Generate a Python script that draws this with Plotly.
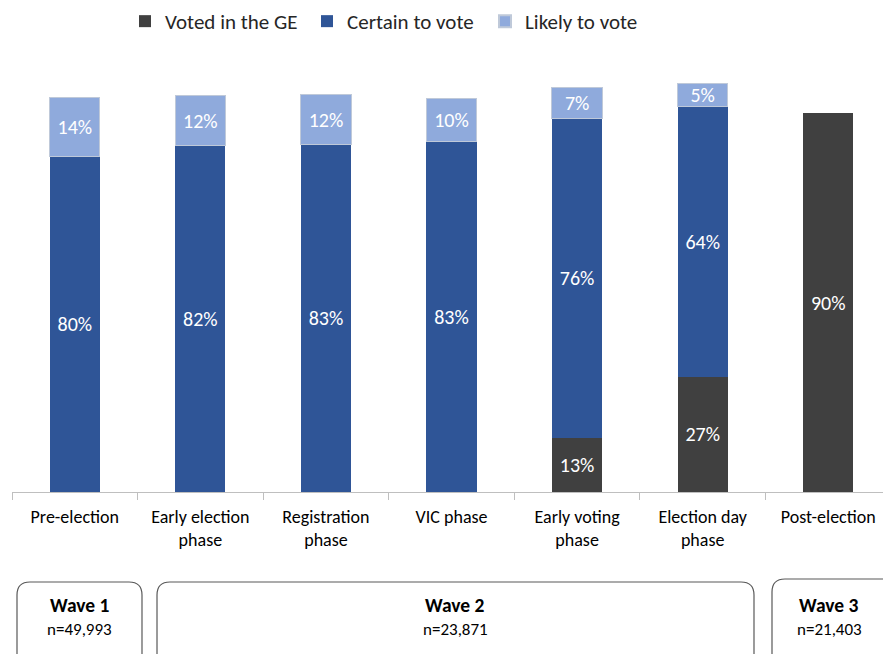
import plotly.graph_objects as go

categories = ["Pre-election", "Early election<br>phase", "Registration<br>phase", "VIC phase",
              "Early voting<br>phase", "Election day<br>phase", "Post-election"]
voted = [None, None, None, None, 12.9, 27.4, 90.2]
certain = [80.0, 82.4, 82.7, 83.4, 76.1, 64.4, None]
likely = [14.0, 12.1, 11.9, 10.3, 7.4, 5.4, None]

waves = ["Wave 1", "Wave 2", "Wave 3"]
wave_n = ["n=49,993", "n=23,871", "n=21,403"]

FONT = "Carlito, Calibri, Lato, 'Open Sans', sans-serif"
W, H = 883, 654
L, T, PW, PH = 12, 40, 871, 452
PX_PER_PCT = 4.2


def px2paper(x, y):
    return (x - L) / PW, (T + PH - y) / PH


fig = go.Figure()
series = [("Voted in the GE", voted, "#404040", None, "legend", 125),
          ("Certain to vote", certain, "#2F5597", None, "legend2", 307),
          ("Likely to vote", likely, "#8FAADC", "#BFC9D9", "legend3", 485)]
legends = {}
for name, vals, col, lc, lg, lxp in series:
    fig.add_trace(go.Bar(
        name=name, x=categories, y=vals, width=0.4, legend=lg,
        marker=dict(color=col, line=dict(color=lc or col, width=1 if lc else 0)),
        texttemplate="%{y:.0f}%", textposition="inside", insidetextanchor="middle",
        textfont=dict(color="white", size=20, family=FONT), textangle=0,
        constraintext="none", cliponaxis=False,
    ))
    lx, ly = px2paper(lxp, 1)
    legends[lg] = dict(orientation="h", x=lx, xanchor="left", y=ly, yanchor="top",
                       font=dict(size=21, color="#262626", family=FONT),
                       itemwidth=30, itemsizing="constant", bgcolor="rgba(0,0,0,0)")


def rounded_box(x0, y0, x1, y1, r=13):
    def P(x, y):
        px, py = px2paper(x, y)
        return f"{px:.5f},{py:.5f}"
    path = (f"M {P(x0, y1)} L {P(x0, y0 + r)} Q {P(x0, y0)} {P(x0 + r, y0)} "
            f"L {P(x1 - r, y0)} Q {P(x1, y0)} {P(x1, y0 + r)} L {P(x1, y1)}")
    return dict(type="path", xref="paper", yref="paper", path=path,
                line=dict(color="#595959", width=1.2), fillcolor="rgba(0,0,0,0)")


boxes = [(17, 582, 142, 670), (157, 582, 754, 670), (772, 579, 905, 670)]
shapes = [rounded_box(*b) for b in boxes]
annotations = []
centers = [79.5, 455, 829]
for cx, wname, n in zip(centers, waves, wave_n):
    xp, yp = px2paper(cx, 605)
    annotations.append(dict(x=xp, y=yp, xref="paper", yref="paper", text=f"<b>{wname}</b>",
                            xanchor="center", yanchor="middle",
                            showarrow=False, font=dict(size=19.5, color="black", family=FONT)))
    xp, yp = px2paper(cx, 629)
    annotations.append(dict(x=xp, y=yp, xref="paper", yref="paper", text=n,
                            xanchor="center", yanchor="middle",
                            showarrow=False, font=dict(size=17, color="black", family=FONT)))

fig.update_layout(
    width=W, height=H, barmode="stack",
    margin=dict(l=L, r=0, t=T, b=H - T - PH, autoexpand=False),
    plot_bgcolor="white", paper_bgcolor="white",
    font=dict(family=FONT, color="black"),
    xaxis=dict(type="category", range=[-0.5, 6.436], showline=True, linecolor="#BFBFBF",
               linewidth=1, ticks="outside", tickson="boundaries", ticklen=7,
               tickcolor="#BFBFBF", tickfont=dict(size=18, color="black", family=FONT),
               ticklabelstandoff=8, showgrid=False),
    yaxis=dict(range=[0, PH / PX_PER_PCT], visible=False, showgrid=False),
    shapes=shapes, annotations=annotations, showlegend=True,
    **legends,
)
fig.write_html("out.html", post_script="document.body.style.margin='0';",
               config={"displayModeBar": False})
